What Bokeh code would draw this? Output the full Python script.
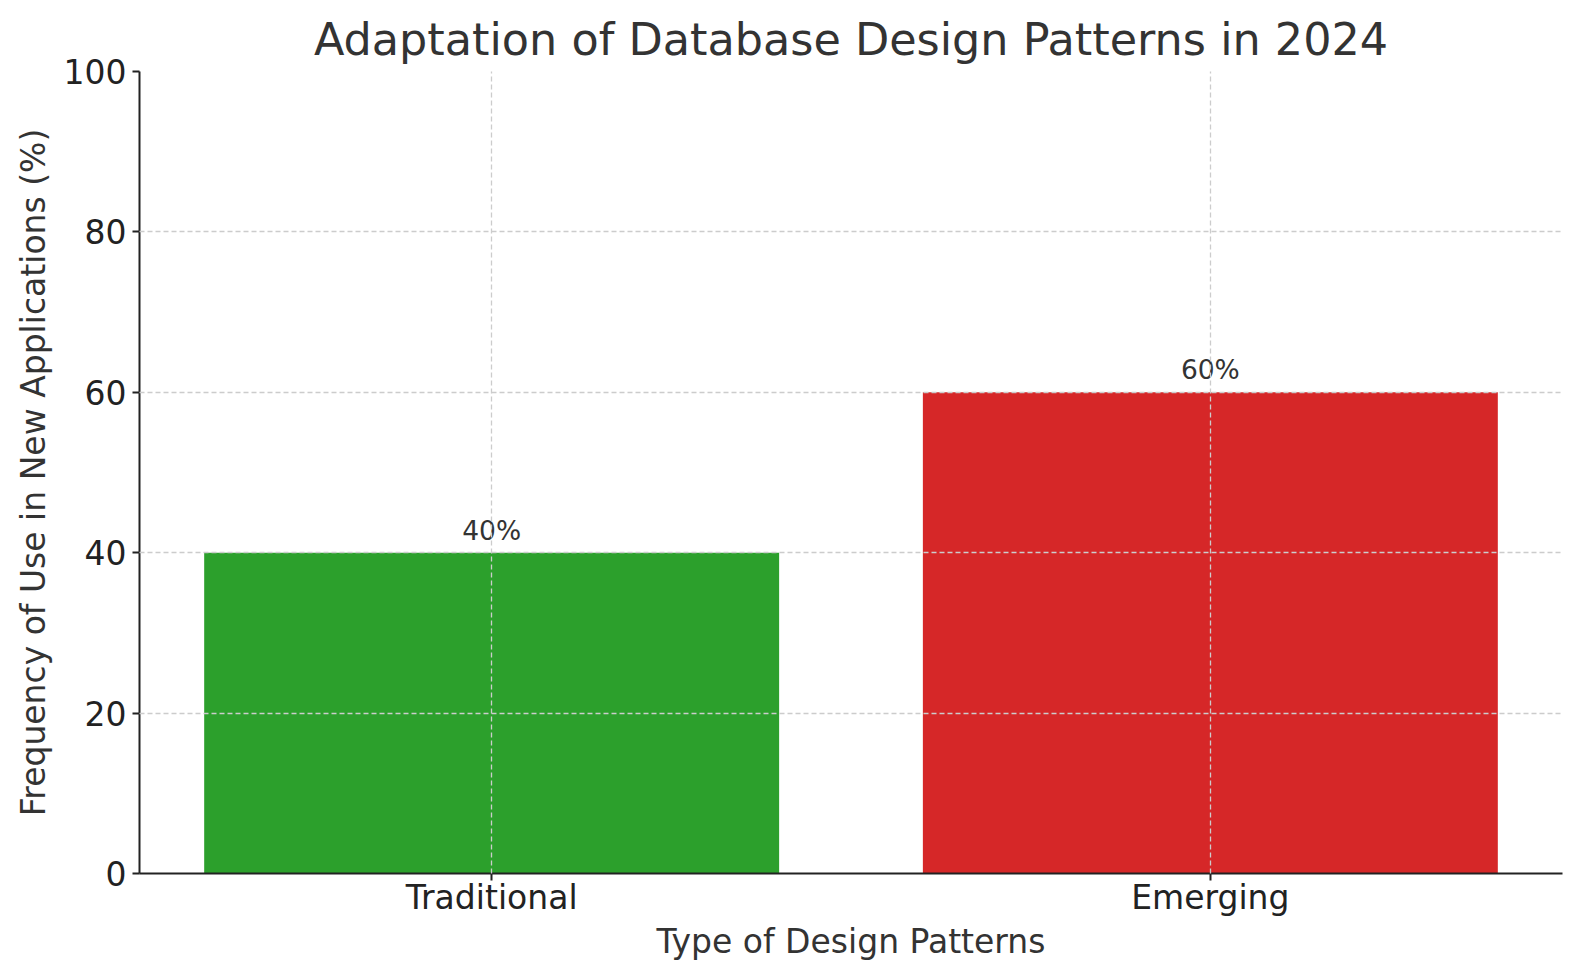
from bokeh.plotting import figure
from bokeh.models import FactorRange, Range1d, ColumnDataSource, FixedTicker, LabelSet
from bokeh.core.properties import value
from bokeh.embed import file_html
from bokeh.resources import INLINE

categories = ["Traditional", "Emerging"]
values = [40, 60]
colors = ["#2ca02c", "#d62728"]
labels = [f"{v}%" for v in values]
y_ticks = [0, 20, 40, 60, 80, 100]

FONT = "DejaVu Sans"

src = ColumnDataSource(dict(cat=categories, val=values, color=colors, lab=labels))

p = figure(
    width=1580, height=980,
    x_range=FactorRange(*categories, range_padding=-0.01, range_padding_units="absolute"),
    y_range=Range1d(0, 100),
    output_backend="svg", toolbar_location=None,
    title="Adaptation of Database Design Patterns in 2024",
    min_border_left=139, min_border_right=18, min_border_top=71, min_border_bottom=107,
)

p.vbar(x="cat", top="val", width=0.8, color="color", line_color=None, source=src)

lbl = LabelSet(x="cat", y="val", text="lab", source=src, text_align="center",
               text_baseline="alphabetic", y_offset=13, text_font=value(FONT),
               text_font_size="26.5px", text_color="#333333")
p.add_layout(lbl)

p.title.text_font = FONT
p.title.text_font_size = "44.5px"
p.title.text_font_style = "normal"
p.title.text_color = "#333333"
p.title.align = "center"
p.title.standoff = 13

p.outline_line_color = None
for ax in (p.xaxis[0], p.yaxis[0]):
    ax.axis_line_color = "#222222"
    ax.axis_line_width = 2
    ax.major_tick_line_color = "#222222"
    ax.major_tick_line_width = 2
    ax.major_tick_out = 7
    ax.major_tick_in = 0
    ax.minor_tick_line_color = None
    ax.major_label_text_font = FONT
    ax.major_label_text_font_size = "33px"
    ax.major_label_text_color = "#222222"
    ax.axis_label_text_font = FONT
    ax.axis_label_text_font_size = "33px"
    ax.axis_label_text_font_style = "normal"
    ax.axis_label_text_color = "#333333"

p.yaxis[0].ticker = FixedTicker(ticks=y_ticks)
p.xaxis[0].axis_label = "Type of Design Patterns"
p.yaxis[0].axis_label = "Frequency of Use in New Applications (%)"
p.xaxis[0].major_label_standoff = -3
p.yaxis[0].major_label_standoff = 6
p.xaxis[0].axis_label_standoff = 2
p.yaxis[0].axis_label_standoff = 8

for g in (p.xgrid[0], p.ygrid[0]):
    g.grid_line_color = "#cccccc"
    g.grid_line_dash = "5 3"
    g.grid_line_width = 1.3
    g.level = "overlay"

open("out.html", "w").write(file_html(p, INLINE))
